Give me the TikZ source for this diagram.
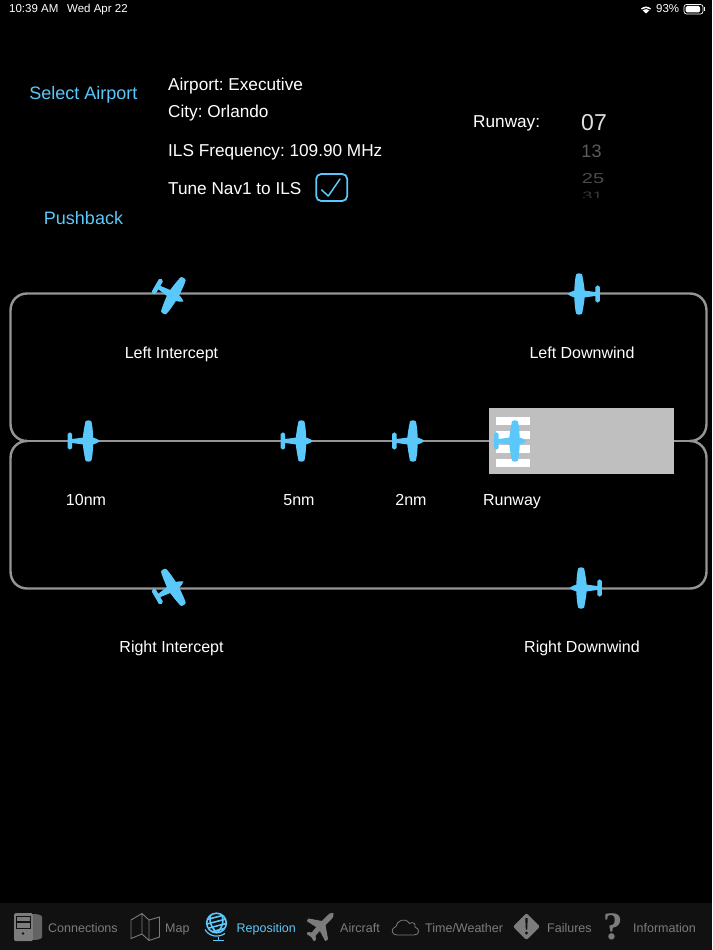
\documentclass[tikz,border=0pt]{standalone}
\usepackage{fontspec}
\setmainfont{Liberation Sans}
\newfontfamily\qfont{Liberation Serif}
\definecolor{skyb}{HTML}{5AC8FA}
\definecolor{trk}{HTML}{959595}
\definecolor{tabg}{HTML}{7C7C7C}
\definecolor{barbg}{HTML}{111111}
\newcommand{\fz}[1]{\fontsize{#1}{#1}\selectfont}
\tikzset{
  planeicon/.pic={
    \fill[skyb] (12,0) .. controls (10,-1.6) and (8,-2.8) .. (5.2,-3.4)
      .. controls (5,-9) and (4.4,-16) .. (3.4,-19.5)
      .. controls (2.6,-21) and (-1.8,-21) .. (-2.6,-19.5)
      .. controls (-4,-13) and (-4.8,-7) .. (-5.2,-3.4)
      -- (-15.8,-2) -- (-15.8,-7)
      .. controls (-16.3,-9.2) and (-19.9,-9.2) .. (-20.4,-7)
      -- (-20.4,7)
      .. controls (-19.9,9.2) and (-16.3,9.2) .. (-15.8,7)
      -- (-15.8,2) -- (-5.2,3.4)
      .. controls (-4.8,7) and (-4,13) .. (-2.6,19.5)
      .. controls (-1.8,21) and (2.6,21) .. (3.4,19.5)
      .. controls (4.4,16) and (5,9) .. (5.2,3.4)
      .. controls (8,2.8) and (10,1.6) .. (12,0) -- cycle;
  },
  lbl/.style={text=white,inner sep=0pt,anchor=base,font=\fz{16}},
  big/.style={text=white,inner sep=0pt,anchor=base west,font=\fz{17.2}},
  lnk/.style={text=skyb,inner sep=0pt,anchor=base,font=\fz{18}},
  tabt/.style={text=tabg,inner sep=0pt,anchor=base west,font=\fz{12.5}},
  stat/.style={text=white,inner sep=0pt,anchor=base west,font=\fz{11.5}},
  loopline/.style={draw=trk,line width=2.4pt},
}
\begin{document}
\frenchspacing
\begin{tikzpicture}[x=1pt,y=-1pt]
\path[fill=black,use as bounding box] (0,0) rectangle (712,950);
% status bar
\node[stat] (time) at (9,13) {10:39 AM};
\node[stat] (date) at (67,13) {Wed Apr 22};
\node[stat] (pct) at (656,13) {93\%};
\fill[white] (646,13.5) -- (641,8.6) .. controls (644,5.8) and (648,5.8) .. (651,8.6) -- cycle;
\draw[black,line width=.8pt] (639.5,7.6) .. controls (643.5,4) and (648.5,4) .. (652.5,7.6);
\draw[black,line width=.8pt] (642,10) .. controls (644.5,8) and (647.5,8) .. (650,10);
\draw[white,line width=.7pt,rounded corners=2.5pt] (684,4.5) rectangle (703,14);
\fill[white,rounded corners=1.5pt] (685.5,6) rectangle (700,12.5);
\fill[white] (704,7.5) rectangle (705,11);
% header texts
\node[lnk] (sel) at (83.5,99.5) {Select Airport};
\node[lnk] (push) at (83.5,224) {Pushback};
\node[big] (apt) at (168,90) {Airport: Executive};
\node[big] (city) at (168,117) {City: Orlando};
\node[big] (ils) at (168,156) {ILS Frequency: 109.90 MHz};
\node[big] (tune) at (168,194) {Tune Nav1 to ILS};
\node[draw=skyb,line width=1.8pt,rounded corners=5pt,minimum width=31pt,minimum height=27pt,inner sep=0pt] (chk) at (331.7,187.5) {};
\draw[skyb,line width=1.5pt,line join=round,line cap=round] (321.7,190) -- (328.3,196) -- (340,179);
\node[big] (rw) at (473,127) {Runway:};
\node[text=white!88!black,inner sep=0pt,anchor=base,font=\fz{23}] (p07) at (594,130.5) {07};
\node[text=white!36!black,inner sep=0pt,anchor=base,font=\fz{18}] (p13) at (591.5,157.5) {13};
\node[text=white!30!black,inner sep=0pt,anchor=base,font=\fz{20}] (p25) at (593,183) {\scalebox{1}[.72]{25}};
\begin{scope}
\clip (570,189) rectangle (620,197);
\node[text=white!22!black,inner sep=0pt,anchor=base,font=\fz{18}] (p31) at (592.5,199) {\scalebox{1}[.6]{31}};
\end{scope}
% pattern track
\coordinate (mL) at (27,441);
\coordinate (mR) at (690,441);
\path[loopline] (mL) .. controls (17.6,441) and (10.5,433.6) .. (10.5,424) -- (10.5,310.5)
  .. controls (10.5,300.9) and (17.6,293.5) .. (27,293.5) -- (690,293.5)
  .. controls (699.4,293.5) and (706.5,300.9) .. (706.5,310.5) -- (706.5,424)
  .. controls (706.5,433.6) and (699.4,441) .. (mR);
\path[loopline] (mL) .. controls (17.6,441) and (10.5,448.4) .. (10.5,458) -- (10.5,571.5)
  .. controls (10.5,581.1) and (17.6,588.5) .. (27,588.5) -- (690,588.5)
  .. controls (699.4,588.5) and (706.5,581.1) .. (706.5,571.5) -- (706.5,458)
  .. controls (706.5,448.4) and (699.4,441) .. (mR);
\path[loopline] (mL) -- (mR);
% runway
\node[fill=black!25,draw=none,minimum width=185pt,minimum height=66.5pt,inner sep=0pt] (rwy) at (581.2,440.8) {};
\foreach \a/\b in {416.7/425,430.7/439.3,445/453.3,458.7/466.7}
  \fill[white] (495.7,\a) rectangle (530,\b);
% planes
\pic at (88,441) {planeicon};
\pic at (301,441) {planeicon};
\pic at (412.5,441) {planeicon};
\pic at (514.5,441) {planeicon};
\pic[rotate=180] at (579.5,294) {planeicon};
\pic[rotate=180] at (581.5,588) {planeicon};
\pic[rotate=-30] at (173,295.5) {planeicon};
\pic[rotate=30] at (173,587.5) {planeicon};
% labels
\node[lbl] (li) at (171.5,358.5) {Left Intercept};
\node[lbl] (ld) at (582,358.5) {Left Downwind};
\node[lbl] (n10) at (86,505.5) {10nm};
\node[lbl] (n5) at (299,505.5) {5nm};
\node[lbl] (n2) at (411,505.5) {2nm};
\node[lbl] (nr) at (512,505.5) {Runway};
\node[lbl] (ri) at (171.5,652.5) {Right Intercept};
\node[lbl] (rd) at (582,652.5) {Right Downwind};
% tab bar
\fill[barbg] (0,903) rectangle (712,950);
% connections icon
\fill[tabg,rounded corners=1.5pt] (14,913) rectangle (33,941);
\fill[tabg!80!black] (33,914) .. controls (38,914) and (42,915) .. (42,917) -- (42,937) .. controls (42,939) and (38,940) .. (33,940) -- cycle;
\draw[barbg,line width=.8pt] (16.5,916) rectangle (30,921.5) (16.5,922.5) rectangle (30,928);
\fill[barbg] (23,933.5) circle (1.3);
% map icon
\draw[tabg,line width=.9pt,line join=round] (131,920) -- (142,913.5) -- (149,920) -- (159.5,917) -- (159.5,937) -- (149,940.5) -- (142,934) -- (131,938.5) -- cycle (142,913.5) -- (142,934) (149,920) -- (149,940.5);
% globe icon
\draw[skyb,line width=1.6pt] (216.5,923) circle (9.8);
\begin{scope}
\clip (216.5,923) circle (9.8);
\foreach \d in {-6,-1.5,3,7.5}
  \draw[skyb,line width=1.6pt] (205,923+\d+3) -- (228,923+\d-3);
\draw[skyb,line width=1.6pt] (212,912) .. controls (207,920) and (212,930) .. (220,935);
\draw[skyb,line width=1.6pt] (220,912) .. controls (226,920) and (222,930) .. (214,935);
\end{scope}
\draw[skyb,line width=1.2pt] (205,929.5) .. controls (209,936.5) and (218,938) .. (225,933.5);
\draw[skyb,line width=1.6pt] (218.5,936.5) -- (218.5,940) (213,940.5) -- (224,940.5);
% aircraft icon
\fill[tabg,draw=tabg,line width=1pt,line join=round] (333,913.5) .. controls (331,913) and (329,914) .. (327,916.5) -- (322,921.5) -- (308.5,919) -- (307.5,921) -- (317,927) -- (312,933) -- (308,932.5) -- (307.5,934) -- (311.5,936.5) -- (314,940.5) -- (315.5,939.5) -- (315,935.5) -- (320,930) -- (325.5,940.5) -- (327.5,939) -- (325,925) -- (330,920) .. controls (332.5,918) and (333.5,916) .. (333,913.5) -- cycle;
% cloud icon
\draw[tabg,line width=.8pt,line join=round] (397,935) .. controls (391,935) and (390.5,928) .. (396,926.5)
  .. controls (396.5,921) and (405,916.5) .. (409.5,923.5)
  .. controls (412,921.5) and (416,923) .. (415,927)
  .. controls (420,928.5) and (420,935) .. (414,935) -- cycle;
% failures icon
\fill[tabg,rounded corners=2pt] (526.5,913) -- (540,926.5) -- (526.5,940) -- (513,926.5) -- cycle;
\fill[barbg] (525.3,918) -- (527.7,918) -- (527.2,929.5) -- (525.8,929.5) -- cycle (526.5,933) circle (1.6);
% information icon
\node[text=tabg,inner sep=0pt,font=\qfont\bfseries\fz{39}] (qm) at (613.5,927) {?};
% tab labels
\node[tabt] (t1) at (48,932) {Connections};
\node[tabt] (t2) at (165,932) {Map};
\node[tabt,text=skyb] (t3) at (236.5,932) {Reposition};
\node[tabt] (t4) at (340,932) {Aircraft};
\node[tabt] (t5) at (425,932) {Time/Weather};
\node[tabt] (t6) at (547,932) {Failures};
\node[tabt] (t7) at (633,932) {Information};
\end{tikzpicture}
\end{document}
